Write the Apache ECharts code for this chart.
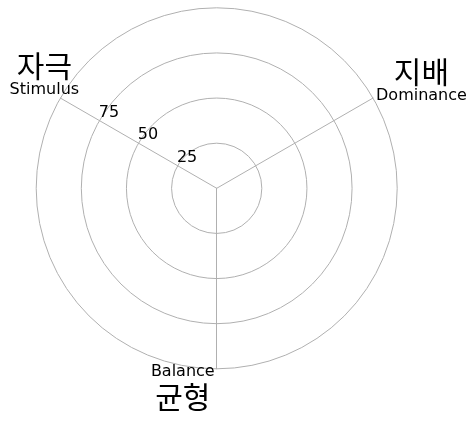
<!DOCTYPE html>
<html><head><meta charset="utf-8">
<script src="https://cdn.jsdelivr.net/npm/echarts@6/dist/echarts.min.js"></script>
<style>html,body{margin:0;padding:0;background:#fff}#c{width:471px;height:423px}</style>
</head><body><div id="c"></div>
<script>
// Indicators in ECharts order (counter-clockwise from the start angle)
const namesKo = ['자극', '균형', '지배'];
const namesEn = ['Stimulus', 'Balance', 'Dominance'];
const indicatorMax = [100, 100, 100];
const tickLabels = ['25', '50', '75'];
const seriesValues = []; // the reference shows no filled data

const FONT = "'DejaVu Sans', 'Noto Sans CJK KR', sans-serif";
const KFONT = "'Noto Sans CJK KR', 'DejaVu Sans', sans-serif";
const rich = {
  ko: { fontFamily: KFONT, fontSize: 30, lineHeight: 31, align: 'center', color: '#000' },
  en: { fontFamily: FONT, fontSize: 16, lineHeight: 18, align: 'center', color: '#000' }
};
// per-indicator name placement (alignment + small padding offsets)
const nameStyles = [
  { align: 'center', verticalAlign: 'bottom', padding: [0, 32, -1, 0] },
  { align: 'right', verticalAlign: 'top', padding: [-6, 2, 0, 0] },
  { align: 'left', verticalAlign: 'bottom', padding: [0, 0, -7, 3] }
];
const nameText = (i) => i === 1
  ? '{en|' + namesEn[i] + '}\n{ko|' + namesKo[i] + '}'
  : '{ko|' + namesKo[i] + '}\n{en|' + namesEn[i] + '}';

const indicator = namesEn.map((n, i) => {
  const o = {
    name: nameText(i),
    min: 0,
    max: indicatorMax[i],
    nameGap: 0,
    nameTextStyle: Object.assign({ rich: rich, color: '#000', fontFamily: FONT }, nameStyles[i])
  };
  if (i === 0) {
    o.axisLabel = {
      show: true,
      color: '#000',
      fontFamily: FONT,
      fontSize: 16,
      margin: 0,
      align: 'center',
      verticalAlign: 'bottom',
      padding: [0, 0, 0, 19],
      formatter: (v) => tickLabels.indexOf(String(v)) >= 0 ? String(v) : ''
    };
  }
  return o;
});

const chart = echarts.init(document.getElementById('c'), null, { renderer: 'canvas' });
chart.setOption({
  animation: false,
  radar: {
    center: [216.7, 188.3],
    radius: 180.5,
    startAngle: 150,
    shape: 'circle',
    splitNumber: 4,
    nameGap: 0,
    indicator: indicator,
    axisName: { color: '#000', fontFamily: FONT, rich: rich },
    axisLine: { lineStyle: { color: '#b0b0b0', width: 1 } },
    splitLine: { lineStyle: { color: '#b0b0b0', width: 1 } },
    splitArea: { show: false },
    axisTick: { show: false },
    axisLabel: { show: false }
  },
  series: [{ type: 'radar', data: seriesValues.length ? [{ value: seriesValues }] : [] }]
});
</script>
</body></html>
